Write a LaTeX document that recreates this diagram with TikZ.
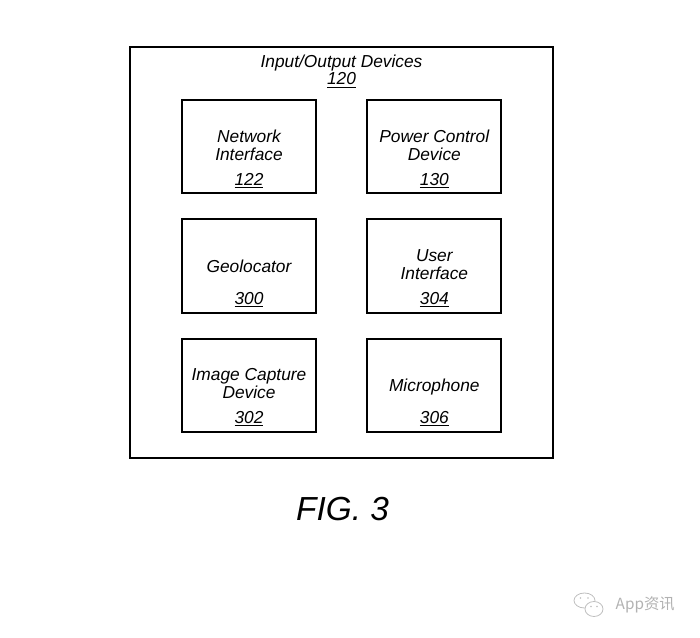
\documentclass[tikz,border=0pt]{standalone}
\usepackage{fontspec}
\setmainfont{Liberation Sans}
\newfontfamily\cjkfont{Noto Sans CJK SC}
\usetikzlibrary{positioning}

\begin{document}
\begin{tikzpicture}[x=0.75pt, y=-0.75pt]
		\tikzstyle{every node}=[font=\itshape\fontsize{13}{13.2}\selectfont, align=center]
		\tikzstyle{device}=[rectangle, draw, line width=1.5pt, minimum width=100.5pt, minimum height=69.75pt, inner sep=0pt]
		\tikzstyle{caption}=[anchor=base]

		\useasboundingbox (0,0) rectangle (700,638);

		\node[rectangle, draw, line width=1.5pt, minimum width=317.25pt, minimum height=308.25pt] (io) at (341.5,252.5) {};
		\node[caption] (ioTitle) at (341.5,85) {Input/Output Devices\\\underline{120}};

		\node[device] (network) at (249,147) {};
		\node[device, right=37pt of network] (power) {};
		\node[device, below=18pt of network] (geo) {};
		\node[device, below=18pt of geo] (camera) {};
		\node[device, below=18pt of power] (userif) {};
		\node[device, below=18pt of userif] (mic) {};

		% names (base = last line)
		\node[caption] (networkName) at ([yshift=25.5pt]network.south) {Network\\Interface};
		\node[caption] (powerName) at ([yshift=25.5pt]power.south) {Power Control\\Device};
		\node[caption] (geoName) at ([yshift=31pt]geo.south) {Geolocator};
		\node[caption] (userifName) at ([yshift=25.5pt]userif.south) {User\\Interface};
		\node[caption] (cameraName) at ([yshift=25.5pt]camera.south) {Image Capture\\Device};
		\node[caption] (micName) at ([yshift=31pt]mic.south) {Microphone};

		% reference numbers
		\node[caption] (networkNum) at ([yshift=6.75pt]network.south) {\underline{122}};
		\node[caption] (powerNum) at ([yshift=6.75pt]power.south) {\underline{130}};
		\node[caption] (geoNum) at ([yshift=6.75pt]geo.south) {\underline{300}};
		\node[caption] (userifNum) at ([yshift=6.75pt]userif.south) {\underline{304}};
		\node[caption] (cameraNum) at ([yshift=6.75pt]camera.south) {\underline{302}};
		\node[caption] (micNum) at ([yshift=6.75pt]mic.south) {\underline{306}};

		\node[caption, font=\itshape\fontsize{25}{25}\selectfont] (fig) at (342.5,520) {FIG. 3};

		% watermark
		\draw[gray!50, line width=0.6pt] (584.5,600.5) ellipse (10.5 and 7.5);
		\draw[gray!50, line width=0.6pt, fill=white] (594,609) ellipse (9 and 7.5);
		\fill[gray!50] (580.5,598) circle (0.9) (588,598) circle (0.9) (591,606.5) circle (0.8) (597,606.5) circle (0.8);
		\node[caption, anchor=base west, text=gray!60, font=\cjkfont\fontsize{11.5}{12}\selectfont] (mark) at (611,609) {App资讯};
	\end{tikzpicture}
\end{document}
